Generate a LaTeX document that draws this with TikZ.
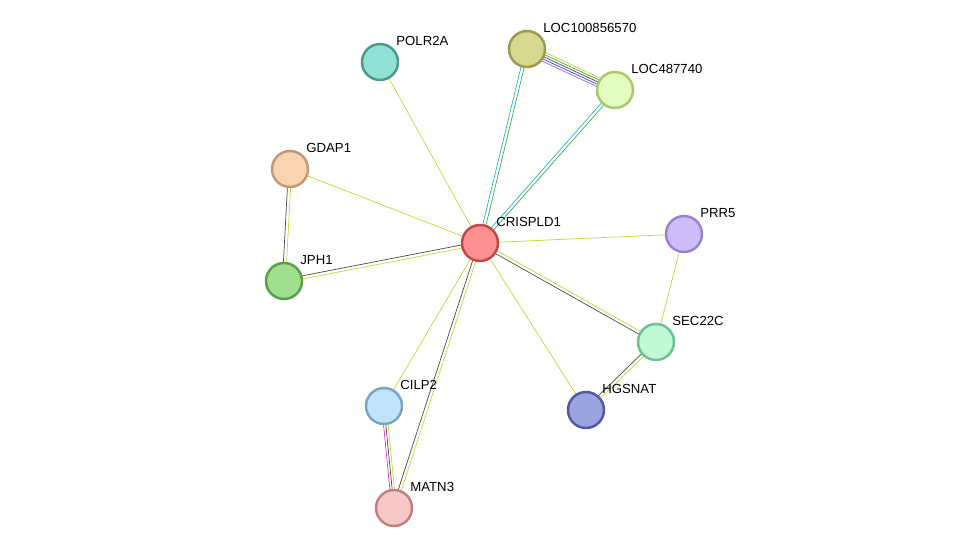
\documentclass[tikz,border=0pt]{standalone}
\usepackage{fontspec}
\setmainfont{Liberation Sans}
\usetikzlibrary{calc,backgrounds}
\definecolor{ygreen}{HTML}{C2D835}
\definecolor{dgray}{HTML}{4A4A4A}
\definecolor{sgreen}{HTML}{3CB043}
\definecolor{scyan}{HTML}{22B4D8}
\definecolor{sblue}{HTML}{3344DD}
\definecolor{spurple}{HTML}{9966CC}
\definecolor{smag}{HTML}{D535C8}
% node colours (border / fill)
\definecolor{bCrispld}{HTML}{C04848}\definecolor{fCrispld}{HTML}{FC9090}
\definecolor{bPolr}{HTML}{4A9A90}\definecolor{fPolr}{HTML}{90E0D4}
\definecolor{bLocA}{HTML}{9A9A50}\definecolor{fLocA}{HTML}{D8D890}
\definecolor{bLocB}{HTML}{A8C870}\definecolor{fLocB}{HTML}{E4FCC0}
\definecolor{bGdap}{HTML}{C09A78}\definecolor{fGdap}{HTML}{FAD4B0}
\definecolor{bJph}{HTML}{5AA04A}\definecolor{fJph}{HTML}{9EDE8C}
\definecolor{bPrr}{HTML}{9A80D0}\definecolor{fPrr}{HTML}{CCBCF8}
\definecolor{bSec}{HTML}{70C090}\definecolor{fSec}{HTML}{C0F8D8}
\definecolor{bHgs}{HTML}{505AA0}\definecolor{fHgs}{HTML}{9AA4E0}
\definecolor{bCilp}{HTML}{7AA4C0}\definecolor{fCilp}{HTML}{C0E4FA}
\definecolor{bMatn}{HTML}{C08080}\definecolor{fMatn}{HTML}{F8C8C8}
\newcommand{\edge}[4]{\draw[#4] ($(#1)!#3!90:(#2)$) -- ($(#2)!#3!-90:(#1)$);}
\begin{document}
\begin{tikzpicture}[x=0.02cm,y=-0.02cm, line width=1.2pt,
    prot/.style={circle, line width=1.4pt, minimum size=0.72cm, inner sep=0pt},
    lbl/.style={font=\fontsize{7.5}{9}\selectfont, anchor=south west, inner sep=1pt}]
  \useasboundingbox (0,0) rectangle (975,554);
  % proteins
  \node[prot, draw=bCrispld, fill=fCrispld] (crispld1) at (480,243) {};
  \node[prot, draw=bPolr, fill=fPolr] (polr2a) at (380,62) {};
  \node[prot, draw=bLocA, fill=fLocA] (loc100) at (527,49) {};
  \node[prot, draw=bLocB, fill=fLocB] (loc487) at (615,90) {};
  \node[prot, draw=bGdap, fill=fGdap] (gdap1) at (290,169) {};
  \node[prot, draw=bJph, fill=fJph] (jph1) at (284,281) {};
  \node[prot, draw=bPrr, fill=fPrr] (prr5) at (684,234) {};
  \node[prot, draw=bSec, fill=fSec] (sec22c) at (656,342) {};
  \node[prot, draw=bHgs, fill=fHgs] (hgsnat) at (586,410) {};
  \node[prot, draw=bCilp, fill=fCilp] (cilp2) at (384,406) {};
  \node[prot, draw=bMatn, fill=fMatn] (matn3) at (394,508) {};
  % labels
  \node[lbl] at (crispld1.north east) {CRISPLD1};
  \node[lbl] at (polr2a.north east) {POLR2A};
  \node[lbl] at (loc100.north east) {LOC100856570};
  \node[lbl] at (loc487.north east) {LOC487740};
  \node[lbl] at (gdap1.north east) {GDAP1};
  \node[lbl] at (jph1.north east) {JPH1};
  \node[lbl] at (prr5.north east) {PRR5};
  \node[lbl] at (sec22c.north east) {SEC22C};
  \node[lbl] at (hgsnat.north east) {HGSNAT};
  \node[lbl] at (cilp2.north east) {CILP2};
  \node[lbl] at (matn3.north east) {MATN3};
  % interactions
  \begin{scope}[on background layer]
    \edge{crispld1}{polr2a}{0pt}{ygreen}
    \edge{crispld1}{gdap1}{0pt}{ygreen}
    \edge{crispld1}{prr5}{0pt}{ygreen}
    \edge{crispld1}{hgsnat}{0pt}{ygreen}
    \edge{crispld1}{cilp2}{0pt}{ygreen}
    \edge{prr5}{sec22c}{0pt}{ygreen}
    \edge{crispld1}{loc100}{-0.9pt}{sgreen}
    \edge{crispld1}{loc100}{0.9pt}{scyan}
    \edge{crispld1}{loc487}{-0.9pt}{sgreen}
    \edge{crispld1}{loc487}{0.9pt}{scyan}
    \edge{loc100}{loc487}{-2.6pt}{spurple}
    \edge{loc100}{loc487}{-1.3pt}{sblue}
    \edge{loc100}{loc487}{0pt}{dgray}
    \edge{loc100}{loc487}{1.3pt}{sgreen}
    \edge{loc100}{loc487}{2.6pt}{ygreen}
    \foreach \a/\b in {crispld1/jph1, gdap1/jph1, crispld1/sec22c, sec22c/hgsnat, crispld1/matn3} {
      \edge{\a}{\b}{-0.9pt}{dgray}
      \edge{\a}{\b}{0.9pt}{ygreen}
    }
    \edge{cilp2}{matn3}{-1.3pt}{smag}
    \edge{cilp2}{matn3}{0pt}{dgray}
    \edge{cilp2}{matn3}{1.3pt}{ygreen}
  \end{scope}
\end{tikzpicture}
\end{document}
